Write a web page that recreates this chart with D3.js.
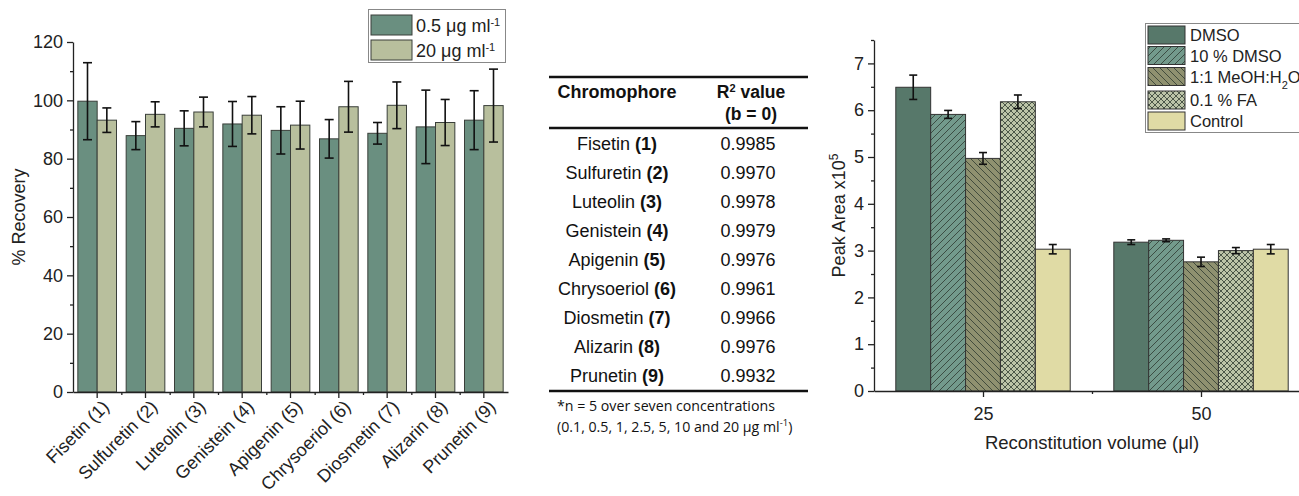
<!DOCTYPE html>
<html>
<head>
<meta charset="utf-8">
<script src="https://cdn.jsdelivr.net/npm/d3@7"></script>
<style>
  body { margin: 0; background: #fff; }
  svg { display: block; font-family: "Liberation Sans", Arial, sans-serif; }
</style>
</head>
<body>
<svg id="chart" width="1299" height="496"></svg>
<script>
// ---- left panel: % recovery ----
const compounds = ["Fisetin (1)", "Sulfuretin (2)", "Luteolin (3)", "Genistein (4)", "Apigenin (5)",
  "Chrysoeriol (6)", "Diosmetin (7)", "Alizarin (8)", "Prunetin (9)"];
const rec05 = [99.7, 87.9, 90.4, 91.9, 89.7, 86.8, 88.7, 90.9, 93.2];
const rec05Err = [13.2, 4.8, 6.0, 7.7, 8.1, 6.6, 3.7, 12.6, 10.1];
const rec20 = [93.2, 95.2, 96.0, 94.9, 91.5, 97.8, 98.3, 92.4, 98.2];
const rec20Err = [4.2, 4.3, 5.1, 6.4, 8.2, 8.7, 8.0, 7.9, 12.5];
const recTicks = [0, 20, 40, 60, 80, 100, 120];

// ---- middle: table ----
const tableNames = ["Fisetin", "Sulfuretin", "Luteolin", "Genistein", "Apigenin",
  "Chrysoeriol", "Diosmetin", "Alizarin", "Prunetin"];
const tableIds = ["1", "2", "3", "4", "5", "6", "7", "8", "9"];
const r2Values = ["0.9985", "0.9970", "0.9978", "0.9979", "0.9976", "0.9961", "0.9966", "0.9976", "0.9932"];

// ---- right panel: peak area ----
const volumes = [25, 50];
const solvents = ["DMSO", "10 % DMSO", "1:1 MeOH:H2O", "0.1 % FA", "Control"];
const area25 = [6.49, 5.91, 4.97, 6.18, 3.03];
const err25 = [0.26, 0.085, 0.125, 0.145, 0.10];
const area50 = [3.18, 3.22, 2.76, 3.00, 3.03];
const err50 = [0.05, 0.03, 0.10, 0.065, 0.10];
const areaTicks = [0, 1, 2, 3, 4, 5, 6, 7];

const svg = d3.select("#chart");
const defs = svg.append("defs");

// hatch patterns
const hatch = (id, bg, paths, size) => {
  const p = defs.append("pattern")
    .attr("id", id)
    .attr("patternUnits", "userSpaceOnUse")
    .attr("width", size).attr("height", size);
  p.append("rect").attr("width", size).attr("height", size).attr("fill", bg);
  paths.forEach(d => p.append("path").attr("d", d)
    .attr("stroke", "#2f3a30").attr("stroke-width", 0.8).attr("fill", "none"));
};
hatch("fwd", "#739a8c", ["M0,7 L7,0", "M-1,1 L1,-1", "M6,8 L8,6"], 7);
hatch("back", "#8f9170", ["M0,0 L7,7", "M-1,6 L1,8", "M6,-1 L8,1"], 7);
hatch("cross", "#bcc4a8", ["M0,0 L6,6", "M0,6 L6,0"], 6);

const solventFill = ["#57786a", "url(#fwd)", "url(#back)", "url(#cross)", "#e0dba5"];

// ================= left chart =================
const L = { left: 73, right: 508, top: 42, bottom: 392 };

const x = d3.scaleBand()
  .domain(compounds)
  .range([L.left, L.right])
  .paddingInner(0.2)
  .paddingOuter(0.1);
const xs = d3.scaleBand().domain([0, 1]).range([0, x.bandwidth()]);
const y = d3.scaleLinear().domain([0, 120]).range([L.bottom, L.top]);

const recSeries = [
  { vals: rec05, errs: rec05Err, color: "#6a8f80" },
  { vals: rec20, errs: rec20Err, color: "#b8bf9d" }
];

const gl = svg.append("g");
recSeries.forEach((s, k) => {
  gl.append("g").selectAll("rect")
    .data(s.vals)
    .join("rect")
      .attr("x", (d, i) => x(compounds[i]) + xs(k))
      .attr("y", d => y(d))
      .attr("width", xs.bandwidth())
      .attr("height", d => y(0) - y(d))
      .attr("fill", s.color)
      .attr("stroke", "#3a3f3a")
      .attr("stroke-width", 1);
});
recSeries.forEach((s, k) => {
  const eg = gl.append("g").attr("stroke", "#111").attr("stroke-width", 1.6);
  s.vals.forEach((v, i) => {
    const cx = x(compounds[i]) + xs(k) + xs.bandwidth() / 2;
    const e = s.errs[i];
    eg.append("line").attr("x1", cx).attr("x2", cx).attr("y1", y(v - e)).attr("y2", y(v + e));
    eg.append("line").attr("x1", cx - 4.5).attr("x2", cx + 4.5).attr("y1", y(v - e)).attr("y2", y(v - e));
    eg.append("line").attr("x1", cx - 4.5).attr("x2", cx + 4.5).attr("y1", y(v + e)).attr("y2", y(v + e));
  });
});

// y axis
const yAx = gl.append("g")
  .attr("transform", `translate(${L.left},0)`)
  .call(d3.axisLeft(y).tickValues(recTicks).tickSize(6).tickPadding(4).tickSizeOuter(0));
gl.append("g")
  .attr("transform", `translate(${L.left},0)`)
  .call(d3.axisLeft(y).tickValues(d3.range(10, 120, 20)).tickSize(3).tickFormat("").tickSizeOuter(0))
  .select(".domain").remove();
// x axis
gl.append("g")
  .attr("transform", `translate(0,${L.bottom})`)
  .call(d3.axisBottom(x).tickSize(6).tickFormat("").tickSizeOuter(0));
gl.append("g")
  .attr("transform", `translate(0,${L.bottom})`)
  .call(d3.axisBottom(d3.scaleLinear().domain([0, 9]).range([L.left, L.right]))
    .tickValues(d3.range(1, 9)).tickSize(3).tickFormat("").tickSizeOuter(0))
  .select(".domain").remove();
gl.selectAll(".domain, .tick line").attr("stroke", "#222").attr("stroke-width", 1.3);
yAx.selectAll("text").attr("font-size", 18).attr("fill", "#222");

gl.append("g").selectAll("text")
  .data(compounds)
  .join("text")
    .attr("transform", d => `translate(${x(d) + x.bandwidth() / 2 + 13},${L.bottom + 16}) rotate(-45)`)
    .attr("text-anchor", "end")
    .attr("font-size", 18)
    .attr("fill", "#222")
    .text(d => d);

gl.append("text")
  .attr("transform", `translate(25,${(L.top + L.bottom) / 2}) rotate(-90)`)
  .attr("text-anchor", "middle")
  .attr("font-size", 18)
  .attr("fill", "#222")
  .text("% Recovery");

// legend left
const lgL = gl.append("g");
lgL.append("rect").attr("x", 368.5).attr("y", 9.5).attr("width", 137).attr("height", 53)
  .attr("fill", "#fff").attr("stroke", "#888").attr("stroke-width", 1);
["0.5", "20"].forEach((lab, k) => {
  lgL.append("rect").attr("x", 371).attr("y", 15 + k * 25).attr("width", 41).attr("height", 20)
    .attr("fill", recSeries[k].color).attr("stroke", "#3a3f3a");
  const t = lgL.append("text").attr("x", 416).attr("y", 32 + k * 25)
    .attr("font-size", 18).attr("fill", "#222");
  t.append("tspan").text(`${lab} μg ml`);
  t.append("tspan").attr("baseline-shift", "super").attr("font-size", 11).text("-1");
});

// ================= table =================
const T = { x0: 549, x1: 808, c1: 617, c2: 748 };
const gt = svg.append("g").attr("fill", "#111");
[77, 128, 391].forEach(ly => {
  gt.append("line").attr("x1", T.x0).attr("x2", T.x1).attr("y1", ly).attr("y2", ly)
    .attr("stroke", "#111").attr("stroke-width", 2.4);
});

gt.append("text").attr("x", T.c1).attr("y", 98).attr("text-anchor", "middle")
  .attr("font-size", 18).attr("font-weight", "bold").text("Chromophore");
const r2h = gt.append("text").attr("x", T.c2 + 3).attr("y", 98).attr("text-anchor", "middle")
  .attr("font-size", 17.5).attr("font-weight", "bold");
r2h.append("tspan").text("R");
r2h.append("tspan").attr("baseline-shift", "super").attr("font-size", 11).text("2");
r2h.append("tspan").text(" value");
gt.append("text").attr("x", T.c2 + 3).attr("y", 120).attr("text-anchor", "middle")
  .attr("font-size", 17.5).attr("font-weight", "bold").text("(b = 0)");

const rowY = d3.scaleLinear().domain([0, 1]).range([149.5, 178.5]);
tableNames.forEach((n, i) => {
  const t = gt.append("text").attr("x", T.c1).attr("y", rowY(i)).attr("text-anchor", "middle")
    .attr("font-size", 18);
  t.append("tspan").text(n + " ");
  t.append("tspan").attr("font-weight", "bold").text(`(${tableIds[i]})`);
  gt.append("text").attr("x", T.c2).attr("y", rowY(i)).attr("text-anchor", "middle")
    .attr("font-size", 18).text(r2Values[i]);
});
gt.append("text").attr("x", 557).attr("y", 411).attr("font-size", 14.2)
  .attr("font-family", "'Open Sans', sans-serif").text("*n = 5 over seven concentrations");
const fn = gt.append("text").attr("x", 557).attr("y", 432).attr("font-size", 14.2)
  .attr("font-family", "'Open Sans', sans-serif");
fn.append("tspan").text("(0.1, 0.5, 1, 2.5, 5, 10 and 20 μg ml");
fn.append("tspan").attr("baseline-shift", "super").attr("font-size", 9.5).text("-1");
fn.append("tspan").text(")");

// ================= right chart =================
const R = { left: 874, right: 1310, top: 40, bottom: 391 };
const xr = d3.scaleLinear().domain([12.5, 62.5]).range([R.left, R.right]);
const yr = d3.scaleLinear().domain([0, 7.5]).range([R.bottom, R.top]);
const sub = d3.scaleBand().domain(solvents).range([0, xr(35) - xr(15)]);

const areaSeries = [
  { vol: volumes[0], vals: area25, errs: err25 },
  { vol: volumes[1], vals: area50, errs: err50 }
];

const gr = svg.append("g");
areaSeries.forEach(s => {
  const x0 = xr(s.vol - 10);
  gr.append("g").selectAll("rect")
    .data(s.vals)
    .join("rect")
      .attr("x", (d, i) => x0 + sub(solvents[i]))
      .attr("y", d => yr(d))
      .attr("width", sub.bandwidth())
      .attr("height", d => yr(0) - yr(d))
      .attr("fill", (d, i) => solventFill[i])
      .attr("stroke", "#333")
      .attr("stroke-width", 1);
  const eg = gr.append("g").attr("stroke", "#111").attr("stroke-width", 1.6);
  s.vals.forEach((v, i) => {
    const cx = x0 + sub(solvents[i]) + sub.bandwidth() / 2;
    const e = s.errs[i];
    eg.append("line").attr("x1", cx).attr("x2", cx).attr("y1", yr(v - e)).attr("y2", yr(v + e));
    eg.append("line").attr("x1", cx - 4).attr("x2", cx + 4).attr("y1", yr(v - e)).attr("y2", yr(v - e));
    eg.append("line").attr("x1", cx - 4).attr("x2", cx + 4).attr("y1", yr(v + e)).attr("y2", yr(v + e));
  });
});

const yrAx = gr.append("g")
  .attr("transform", `translate(${R.left},0)`)
  .call(d3.axisLeft(yr).tickValues(areaTicks).tickSize(6).tickPadding(4).tickSizeOuter(0));
gr.append("g")
  .attr("transform", `translate(${R.left},0)`)
  .call(d3.axisLeft(yr).tickValues(d3.range(0.5, 7.6, 1)).tickSize(3).tickFormat("").tickSizeOuter(0))
  .select(".domain").remove();
const xrAx = gr.append("g")
  .attr("transform", `translate(0,${R.bottom})`)
  .call(d3.axisBottom(xr).tickValues(volumes).tickSize(6).tickPadding(10).tickSizeOuter(0));
gr.append("g")
  .attr("transform", `translate(0,${R.bottom})`)
  .call(d3.axisBottom(xr).tickValues([37.5]).tickSize(3).tickFormat("").tickSizeOuter(0))
  .select(".domain").remove();
gr.selectAll(".domain, .tick line").attr("stroke", "#222").attr("stroke-width", 1.3);
yrAx.selectAll("text").attr("font-size", 18).attr("fill", "#222");
xrAx.selectAll("text").attr("font-size", 18).attr("fill", "#222");

const yl = gr.append("text")
  .attr("transform", `translate(845,${(R.top + R.bottom) / 2}) rotate(-90)`)
  .attr("text-anchor", "middle")
  .attr("font-size", 18)
  .attr("fill", "#222");
yl.append("tspan").text("Peak Area x10");
yl.append("tspan").attr("baseline-shift", "super").attr("font-size", 12).text("5");

gr.append("text")
  .attr("x", 1092).attr("y", 449)
  .attr("text-anchor", "middle")
  .attr("font-size", 18.5)
  .attr("fill", "#222")
  .text("Reconstitution volume (μl)");

// legend right
const lgR = gr.append("g");
lgR.append("rect").attr("x", 1145.5).attr("y", 23.5).attr("width", 170).attr("height", 109)
  .attr("fill", "#fff").attr("stroke", "#888").attr("stroke-width", 1);
const lgY = [26, 46.5, 67.5, 91, 112];
solvents.forEach((s, i) => {
  lgR.append("rect").attr("x", 1148).attr("y", lgY[i]).attr("width", 37).attr("height", 18)
    .attr("fill", solventFill[i]).attr("stroke", "#333");
  const t = lgR.append("text").attr("x", 1190).attr("y", lgY[i] + 15)
    .attr("font-size", 16.5).attr("fill", "#222");
  if (s === "1:1 MeOH:H2O") {
    t.append("tspan").text("1:1 MeOH:H");
    t.append("tspan").attr("baseline-shift", "sub").attr("font-size", 11).text("2");
    t.append("tspan").text("O");
  } else {
    t.text(s);
  }
});
</script>
</body>
</html>
